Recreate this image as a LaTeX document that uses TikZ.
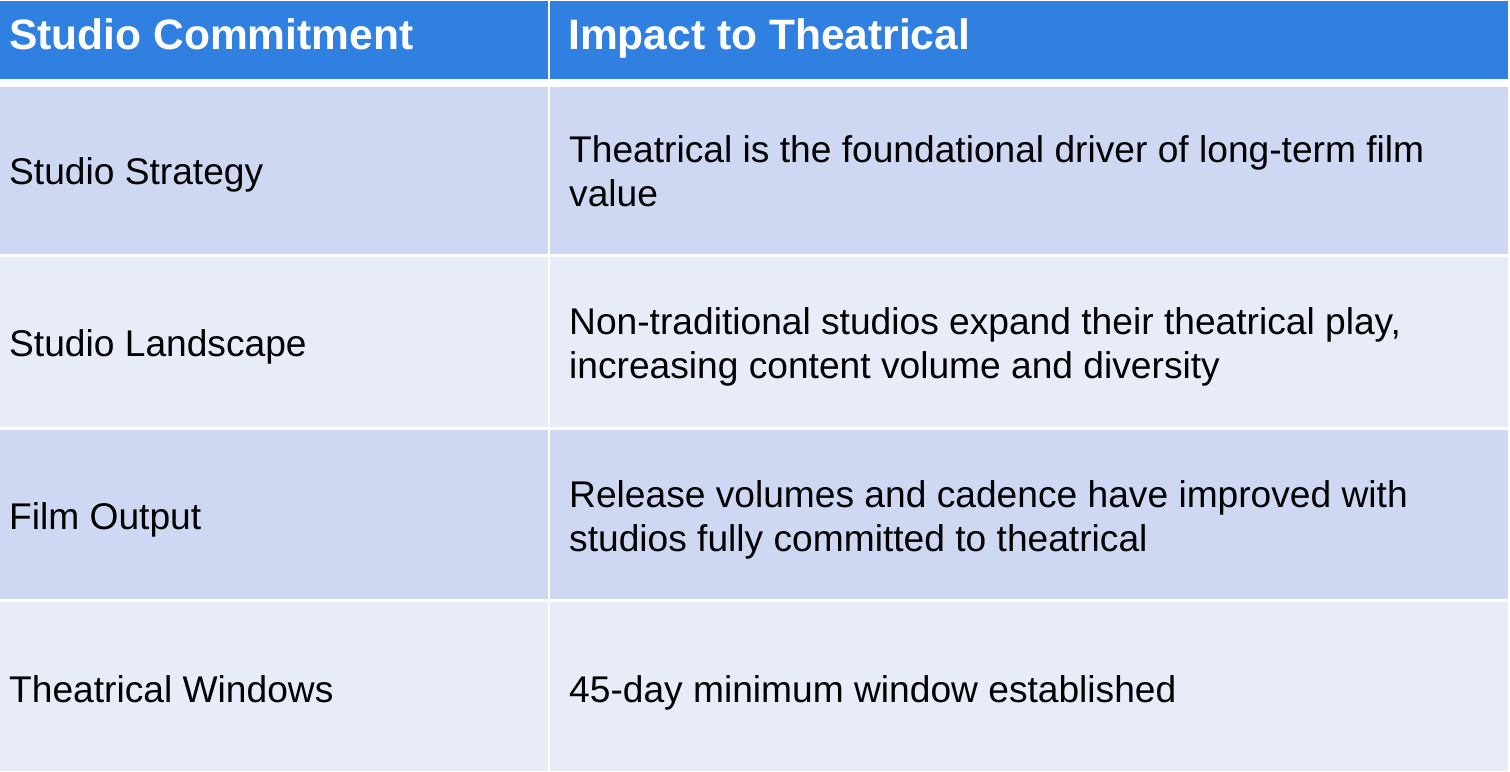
\documentclass[tikz,border=0pt]{standalone}
\usepackage{fontspec}
\setmainfont{Liberation Sans}
\definecolor{hdr}{RGB}{47,128,225}
\definecolor{rowA}{RGB}{206,216,242}
\definecolor{rowB}{RGB}{232,235,248}
\tikzset{
  cellA/.style={fill=rowA, draw=none},
  cellB/.style={fill=rowB, draw=none},
  hcell/.style={fill=hdr, draw=none},
  htext/.style={anchor=base west, text=white, font=\fontsize{42.7}{51}\selectfont\bfseries, inner sep=0pt},
  btext/.style={anchor=base west, text=black, font=\fontsize{37.3}{44}\selectfont, inner sep=0pt},
}
\begin{document}
\begin{tikzpicture}[x=1bp,y=-1bp]
\useasboundingbox (0,0) rectangle (1510,771);
\fill[white] (0,0) rectangle (1510,771);
% header
\fill[hcell] (0,1) rectangle (548,79);
\fill[hcell] (550,1) rectangle (1508,79);
% rows
\fill[cellA] (0,87) rectangle (548,254);
\fill[cellA] (550,87) rectangle (1508,254);
\fill[cellB] (0,257) rectangle (548,427);
\fill[cellB] (550,257) rectangle (1508,427);
\fill[cellA] (0,430) rectangle (548,599);
\fill[cellA] (550,430) rectangle (1508,599);
\fill[cellB] (0,602) rectangle (548,771);
\fill[cellB] (550,602) rectangle (1508,771);
% texts
\node[htext] (h1) at (9,50) {Studio Commitment};
\node[htext] (h2) at (568,50) {Impact to Theatrical};
\node[btext] (a1) at (9,184) {Studio Strategy};
\node[btext] (b1) at (569,162) {Theatrical is the foundational driver of long-term film};
\node[btext] (b1b) at (569,206) {value};
\node[btext] (a2) at (9,356) {Studio Landscape};
\node[btext] (b2) at (569,334) {Non-traditional studios expand their theatrical play,};
\node[btext] (b2b) at (569,378) {increasing content volume and diversity};
\node[btext] (a3) at (9,529) {Film Output};
\node[btext] (b3) at (569,507) {Release volumes and cadence have improved with};
\node[btext] (b3b) at (569,551) {studios fully committed to theatrical};
\node[btext] (a4) at (9,702) {Theatrical Windows};
\node[btext] (b4) at (569,702) {45-day minimum window established};
\end{tikzpicture}
\end{document}
